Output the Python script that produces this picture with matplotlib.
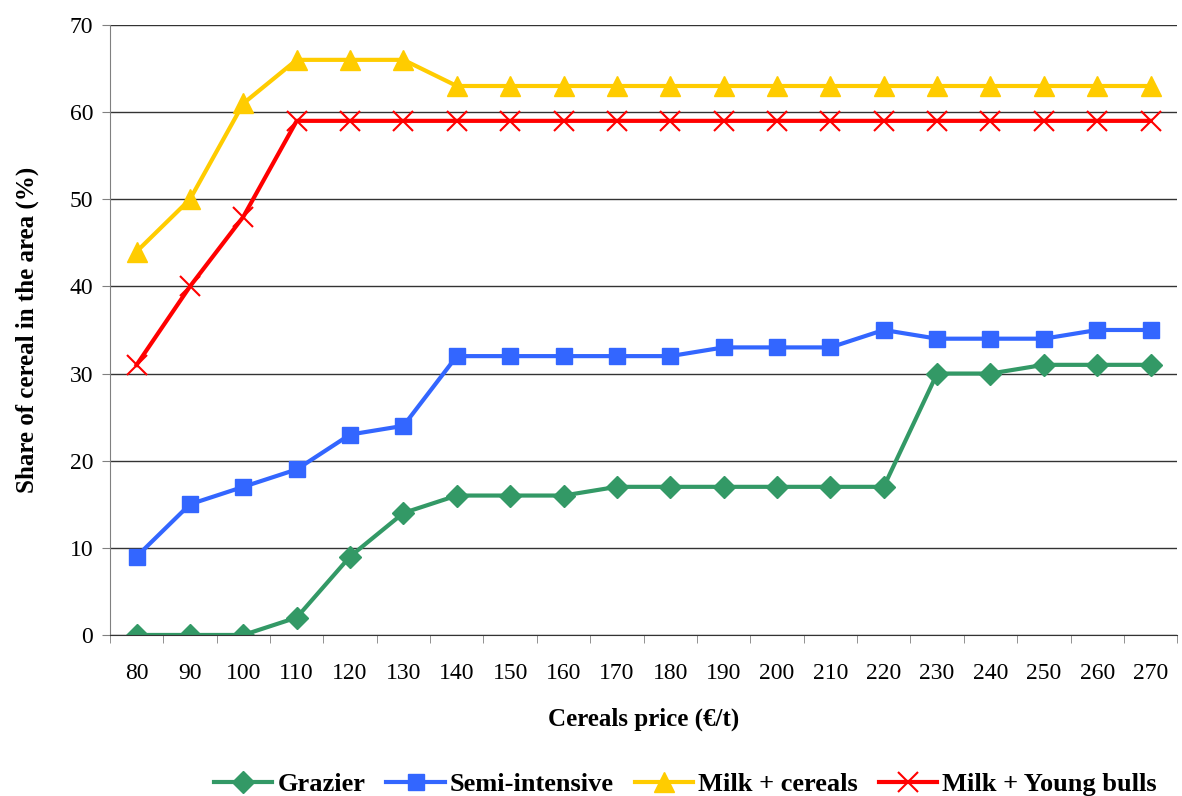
import matplotlib.pyplot as plt
import numpy as np

prices = [80, 90, 100, 110, 120, 130, 140, 150, 160, 170, 180, 190, 200, 210, 220, 230, 240, 250, 260, 270]
grazier = [0, 0, 0, 2, 9, 14, 16, 16, 16, 17, 17, 17, 17, 17, 17, 30, 30, 31, 31, 31]
semi_intensive = [9, 15, 17, 19, 23, 24, 32, 32, 32, 32, 32, 33, 33, 33, 35, 34, 34, 34, 35, 35]
milk_cereals = [44, 50, 61, 66, 66, 66, 63, 63, 63, 63, 63, 63, 63, 63, 63, 63, 63, 63, 63, 63]
milk_bulls = [31, 40, 48, 59, 59, 59, 59, 59, 59, 59, 59, 59, 59, 59, 59, 59, 59, 59, 59, 59]

plt.rcParams['font.family'] = ['Liberation Serif', 'DejaVu Serif']

fig = plt.figure(figsize=(11.82, 7.96), dpi=100)
ax = fig.add_axes([0.093, 0.2023, 0.903, 0.7663])

x = np.arange(len(prices))
ax.plot(x, grazier, color='#339966', lw=3, marker='D', ms=11, label='Grazier')
ax.plot(x, semi_intensive, color='#3366FF', lw=3, marker='s', ms=11, label='Semi-intensive')
ax.plot(x, milk_cereals, color='#FFCC00', lw=3, marker='^', ms=15, label='Milk + cereals')
ax.plot(x, milk_bulls, color='#FF0000', lw=3, marker='x', ms=14, mew=1.5, label='Milk + Young bulls')

ax.set_xlim(-0.5, len(prices) - 0.5)
ax.set_ylim(0, 70)
ax.set_yticks(range(0, 71, 10))
ax.set_xticks(x)
ax.set_xticklabels([str(p) for p in prices])
ax.set_xticks(np.arange(-0.5, len(prices), 1), minor=True)
ax.tick_params(axis='x', which='major', length=0, labelsize=17, pad=20)
ax.tick_params(axis='x', which='minor', length=6, color='#808080')
ax.tick_params(axis='y', labelsize=17, length=6, color='#808080', pad=6)

ax.grid(axis='y', color='#333333', lw=1)
ax.set_axisbelow(True)
for s in ['top', 'right']:
    ax.spines[s].set_visible(False)
ax.spines['left'].set_color('#808080')
ax.spines['bottom'].set_color('#333333')

ax.set_xlabel('Cereals price (€/t)', fontsize=18, fontweight='bold', labelpad=17)
ax.set_ylabel('Share of cereal in the area (%)', fontsize=18, fontweight='bold', labelpad=22)

leg = fig.legend(loc='lower center', bbox_to_anchor=(0.58, -0.03), ncol=4, frameon=False,
                 prop={'size': 19, 'weight': 'bold'}, handlelength=2.2, handletextpad=0.2,
                 columnspacing=0.8)

fig.savefig('out.png', dpi=100)
